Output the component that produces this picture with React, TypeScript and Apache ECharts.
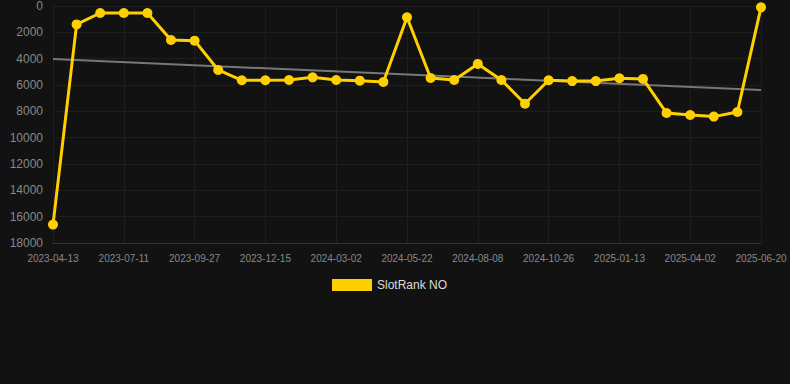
import React, { useEffect, useRef } from "react";
import * as echarts from "echarts";

const dates = [
  "2023-04-13", "2023-05-09", "2023-06-04", "2023-07-11", "2023-08-06", "2023-09-01",
  "2023-09-27", "2023-10-23", "2023-11-19", "2023-12-15", "2024-01-10", "2024-02-05",
  "2024-03-02", "2024-03-28", "2024-04-23", "2024-05-22", "2024-06-17", "2024-07-13",
  "2024-08-08", "2024-09-03", "2024-09-29", "2024-10-26", "2024-11-21", "2024-12-17",
  "2025-01-13", "2025-02-08", "2025-03-06", "2025-04-02", "2025-04-28", "2025-05-24",
  "2025-06-20",
];

const rankValues = [
  16600, 1400, 530, 530, 530, 2580, 2630, 4860, 5640, 5640, 5620, 5420, 5620, 5670,
  5770, 860, 5470, 5620, 4400, 5620, 7420, 5640, 5700, 5700, 5490, 5540, 8130, 8280,
  8400, 8050, 100,
];

const trendStart = 4030;
const trendEnd = 6380;

const seriesName = "SlotRank NO";

export default function App() {
  const ref = useRef<HTMLDivElement>(null);
  useEffect(() => {
    if (!ref.current) return;
    const chart = echarts.init(ref.current, null, { renderer: "svg" });
    const trendData = dates.map((_, i) =>
      i === 0 ? trendStart : i === dates.length - 1 ? trendEnd : null
    );
    chart.setOption({
      animation: false,
      backgroundColor: "#121212",
      grid: { left: 53, right: 29, top: 6, bottom: 141, containLabel: false },
      legend: {
        top: 274,
        left: 327,
        itemWidth: 40,
        itemHeight: 12,
        data: [{ name: seriesName, icon: "rect" }],
        textStyle: { color: "#dddddd", fontSize: 12, fontFamily: "Arial, Liberation Sans, sans-serif" },
      },
      xAxis: {
        type: "category",
        data: dates,
        boundaryGap: false,
        axisLine: { onZero: false, lineStyle: { color: "#333333" } },
        axisTick: { show: false },
        axisLabel: {
          interval: 2,
          color: "#888888",
          fontSize: 10,
          fontFamily: "Arial, Liberation Sans, sans-serif",
          margin: 10,
        },
        splitLine: { show: true, interval: 2, lineStyle: { color: "#1e1e1e" } },
      },
      yAxis: {
        type: "value",
        inverse: true,
        min: 0,
        max: 18000,
        interval: 2000,
        axisLine: { show: false },
        axisTick: { show: false },
        axisLabel: {
          color: "#888888",
          fontSize: 12,
          fontFamily: "Arial, Liberation Sans, sans-serif",
          margin: 10,
          formatter: (v: number) => String(v),
        },
        splitLine: { lineStyle: { color: "#1e1e1e" } },
      },
      series: [
        {
          name: seriesName,
          type: "line",
          data: rankValues,
          color: "#FFD000",
          symbol: "circle",
          symbolSize: 10,
          lineStyle: { width: 3, color: "#FFD000" },
          itemStyle: { color: "#FFD000" },
          z: 3,
        },
        {
          name: "trend",
          type: "line",
          data: trendData,
          connectNulls: true,
          symbol: "none",
          lineStyle: { width: 2, color: "#777777" },
          z: 2,
        },
      ],
    });
    return () => chart.dispose();
  }, []);
  return (
    <div
      ref={ref}
      style={{ position: "fixed", left: 0, top: 0, width: 790, height: 384 }}
    />
  );
}
